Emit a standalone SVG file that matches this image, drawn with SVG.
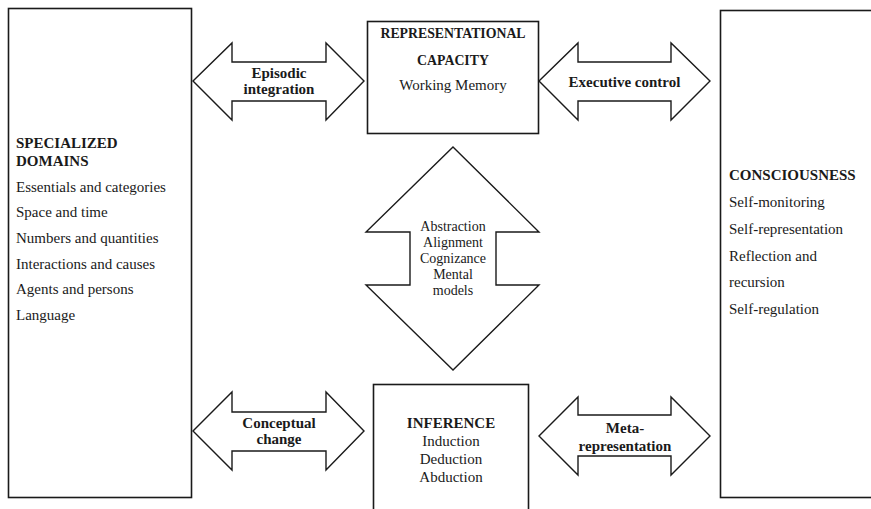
<svg xmlns="http://www.w3.org/2000/svg" width="871" height="509" viewBox="0 0 871 509">
<style>
.box{fill:#fff;stroke:#1a1a1a;stroke-width:1.6}
.arr{fill:#fff;stroke:#1a1a1a;stroke-width:1.4;stroke-linejoin:miter}
text{font-family:"Liberation Serif","Times New Roman",serif;fill:#1a1a1a}
.b{font-weight:bold;font-size:15px}
.r{font-size:15px}
.c{text-anchor:middle}
.s{font-size:14px}
.h{font-weight:bold;font-size:13.8px}
</style>
<rect width="871" height="509" fill="#fff"/>
<g id="connectors">
<g id="episodic-integration">
<path class="arr" d="M193,81 L232,43 L232,62 L326,62 L326,43 L364,81 L326,120 L326,101 L232,101 L232,120 Z"/>
<text class="b c" x="279" y="78">Episodic</text>
<text class="b c" x="279" y="94">integration</text>
</g>
<g id="executive-control">
<path class="arr" d="M539,81 L578,43 L578,62 L671,62 L671,43 L710,81 L671,120 L671,101 L578,101 L578,120 Z"/>
<text class="b c" x="624.5" y="87">Executive control</text>
</g>
<g id="abstraction">
<path class="arr" d="M453,147 L539,232 L496,232 L496,285 L539,285 L453,370 L366,285 L410,285 L410,232 L366,232 Z"/>
<text class="s c" x="453" y="231">Abstraction</text>
<text class="s c" x="453" y="247">Alignment</text>
<text class="s c" x="453" y="263">Cognizance</text>
<text class="s c" x="453" y="279">Mental</text>
<text class="s c" x="453" y="295">models</text>
</g>
<g id="conceptual-change">
<path class="arr" d="M193,431 L232,392 L232,412 L326,412 L326,392 L364,431 L326,470 L326,451 L232,451 L232,470 Z"/>
<text class="b c" x="279" y="428">Conceptual</text>
<text class="b c" x="279" y="444">change</text>
</g>
<g id="meta-representation">
<path class="arr" d="M539,436 L578,397 L578,415 L671,415 L671,397 L710,436 L671,475 L671,456 L578,456 L578,475 Z"/>
<text class="b c" x="625" y="433">Meta-</text>
<text class="b c" x="625" y="451">representation</text>
</g>
</g>
<g id="specialized-domains">
<rect class="box" x="8.5" y="8.5" width="183" height="489"/>
<text class="b" x="16" y="148">SPECIALIZED</text>
<text class="b" x="16" y="166">DOMAINS</text>
<text class="r" x="16" y="192">Essentials and categories</text>
<text class="r" x="16" y="217">Space and time</text>
<text class="r" x="16" y="243">Numbers and quantities</text>
<text class="r" x="16" y="269">Interactions and causes</text>
<text class="r" x="16" y="294">Agents and persons</text>
<text class="r" x="16" y="320">Language</text>
</g>
<g id="representational-capacity">
<rect class="box" x="367.5" y="21.5" width="171" height="112"/>
<text class="h c" x="453" y="38">REPRESENTATIONAL</text>
<text class="h c" x="453" y="65">CAPACITY</text>
<text class="r c" x="453" y="90">Working Memory</text>
</g>
<g id="inference">
<rect class="box" x="373.5" y="384.5" width="155" height="140"/>
<text class="b c" x="451" y="428">INFERENCE</text>
<text class="r c" x="451" y="446">Induction</text>
<text class="r c" x="451" y="464">Deduction</text>
<text class="r c" x="451" y="482">Abduction</text>
</g>
<g id="consciousness">
<rect class="box" x="720.5" y="10.5" width="160" height="487"/>
<text class="b" x="729" y="180">CONSCIOUSNESS</text>
<text class="r" x="729" y="207">Self-monitoring</text>
<text class="r" x="729" y="234">Self-representation</text>
<text class="r" x="729" y="261">Reflection and</text>
<text class="r" x="729" y="287">recursion</text>
<text class="r" x="729" y="314">Self-regulation</text>
</g>
</svg>
